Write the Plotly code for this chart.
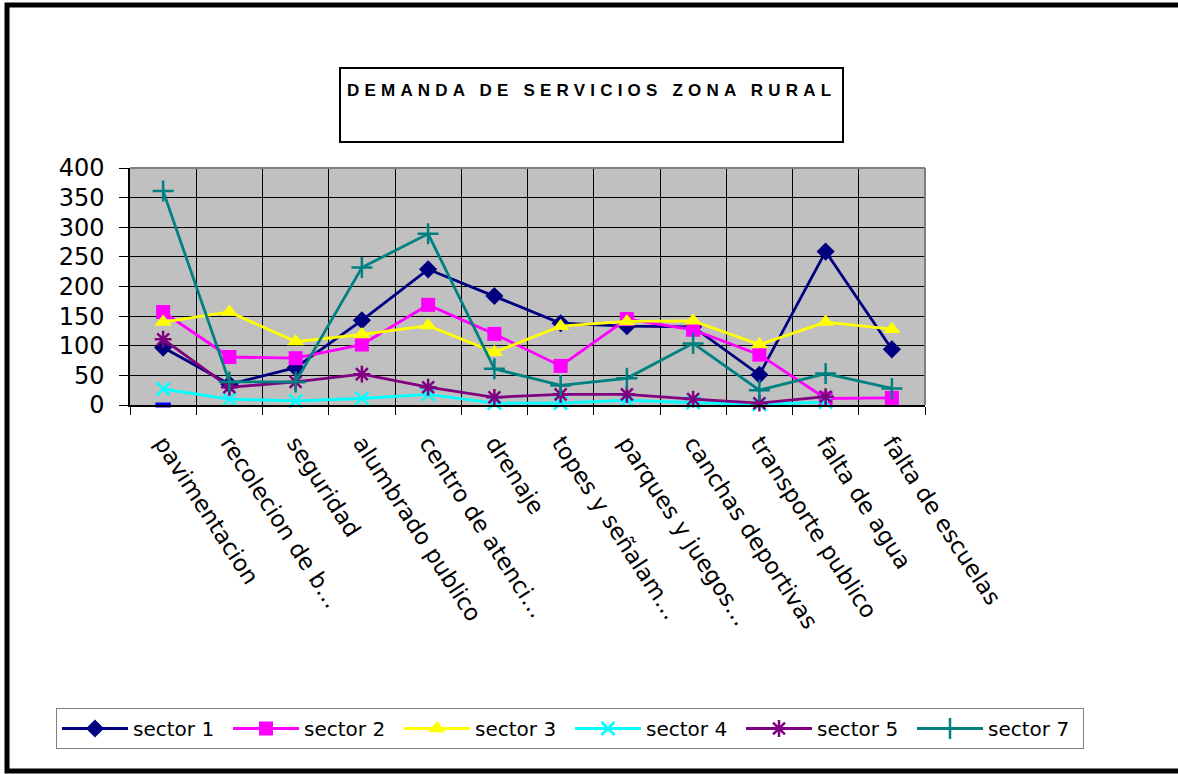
import plotly.graph_objects as go

categories = ["pavimentacion", "recolecion de b…", "seguridad", "alumbrado publico",
              "centro de atenci…", "drenaje", "topes y señalam…", "parques y juegos…",
              "canchas deportivas", "transporte publico", "falta de agua", "falta de escuelas"]

sector_1 = [97, 35, 63, 143, 229, 184, 138, 133, 132, 51, 259, 94]
sector_2 = [157, 81, 79, 102, 169, 120, 66, 145, 127, 85, 11, 12]
sector_3 = [140, 157, 107, 119, 134, 89, 133, 141, 142, 102, 140, 128]
sector_4 = [27, 10, 7, 11, 18, 3, 3, 8, 4, 1, 5, None]
sector_5 = [111, 30, 39, 52, 30, 13, 18, 18, 10, 3, 14, None]
sector_6 = [0, None, None, None, None, None, None, None, None, None, None, None]
sector_7 = [361, 39, 39, 232, 289, 61, 33, 45, 104, 25, 53, 28]

title_text = "DEMANDA DE SERVICIOS ZONA RURAL"

series = [
    ("sector 1", sector_1, "#000080", "diamond", 14, None),
    ("sector 2", sector_2, "#FF00FF", "square", 14, None),
    ("sector 3", sector_3, "#FFFF00", "triangle-up", 15, None),
    ("sector 4", sector_4, "#00FFFF", "x-thin-open", 13, 2.5),
    ("sector 5", sector_5, "#800080", "asterisk-open", 14, 2.5),
    ("sector 7", sector_7, "#008080", "cross-thin-open", 15, 2.5),
]

FONT = "DejaVu Sans, Arial, sans-serif"
FONT_T = "Liberation Sans, Arial, sans-serif"

fig = go.Figure()
for name, vals, color, sym, size, lw in series:
    marker = dict(symbol=sym, size=size, color=color)
    if lw:
        marker["line"] = dict(color=color, width=lw)
    fig.add_trace(go.Scatter(x=categories, y=vals, name=name, mode="lines+markers",
                             line=dict(color=color, width=2.8), marker=marker,
                             cliponaxis=False, connectgaps=False))

fig.add_trace(go.Scatter(x=categories, y=sector_6, name="sector 6", mode="markers",
                         marker=dict(symbol="line-ew-open", size=11, color="#0000FF",
                                     line=dict(color="#0000FF", width=5)),
                         showlegend=False, cliponaxis=False))

W, H = 1178, 774
L, R, T, B = 130, 925, 168, 405
pw, ph = R - L, B - T

def px(x):
    return (x - L) / pw

def py(y):
    return (B - y) / ph

shapes = [
    dict(type="rect", xref="paper", yref="paper", x0=px(7), x1=px(1190), y0=py(771), y1=py(5),
         line=dict(color="black", width=5), layer="above"),
    dict(type="rect", xref="paper", yref="paper", x0=px(340), x1=px(843), y0=py(142), y1=py(68),
         line=dict(color="black", width=2)),
    dict(type="line", xref="paper", yref="paper", x0=0, x1=1, y0=1, y1=1,
         line=dict(color="#808080", width=2)),
    dict(type="line", xref="paper", yref="paper", x0=1, x1=1, y0=0, y1=1,
         line=dict(color="#808080", width=2)),
]

fig.update_layout(
    width=W, height=H,
    margin=dict(l=L, r=W - R, t=T, b=H - B, autoexpand=False),
    paper_bgcolor="white",
    plot_bgcolor="#C0C0C0",
    font=dict(family=FONT, color="black"),
    shapes=shapes,
    annotations=[dict(text="<b><span style='letter-spacing:5.2px'>" + title_text + "</span></b>",
                      xref="paper", yref="paper",
                      x=px(591), y=py(90), xanchor="center", yanchor="middle", showarrow=False,
                      font=dict(family=FONT_T, size=17, color="black"))],
    legend=dict(orientation="h", x=px(1084), y=py(708), xanchor="right", yanchor="top",
                bordercolor="#808080", borderwidth=1, bgcolor="white",
                font=dict(family=FONT, size=20, color="black"),
                entrywidth=90, itemwidth=66, tracegroupgap=0),
    showlegend=True,
)

fig.update_xaxes(
    type="category", tickson="boundaries", ticks="outside", ticklen=8, tickcolor="black",
    showgrid=True, gridcolor="black", gridwidth=1,
    showline=True, linecolor="black", linewidth=1.5,
    tickangle=57, tickfont=dict(family=FONT, size=23, color="black"), ticklabelstandoff=14,
    range=[-0.5, len(categories) - 0.5],
)
fig.update_yaxes(
    range=[0, 400], dtick=50, ticks="outside", ticklen=9, tickcolor="black",
    showgrid=True, gridcolor="black", gridwidth=1,
    showline=True, linecolor="black", linewidth=1.5, zeroline=False,
    tickfont=dict(family=FONT, size=24, color="black"), ticklabelstandoff=10,
)

fig.write_html("out.html", config={"displayModeBar": False},
               post_script="document.body.style.margin='0px';")
